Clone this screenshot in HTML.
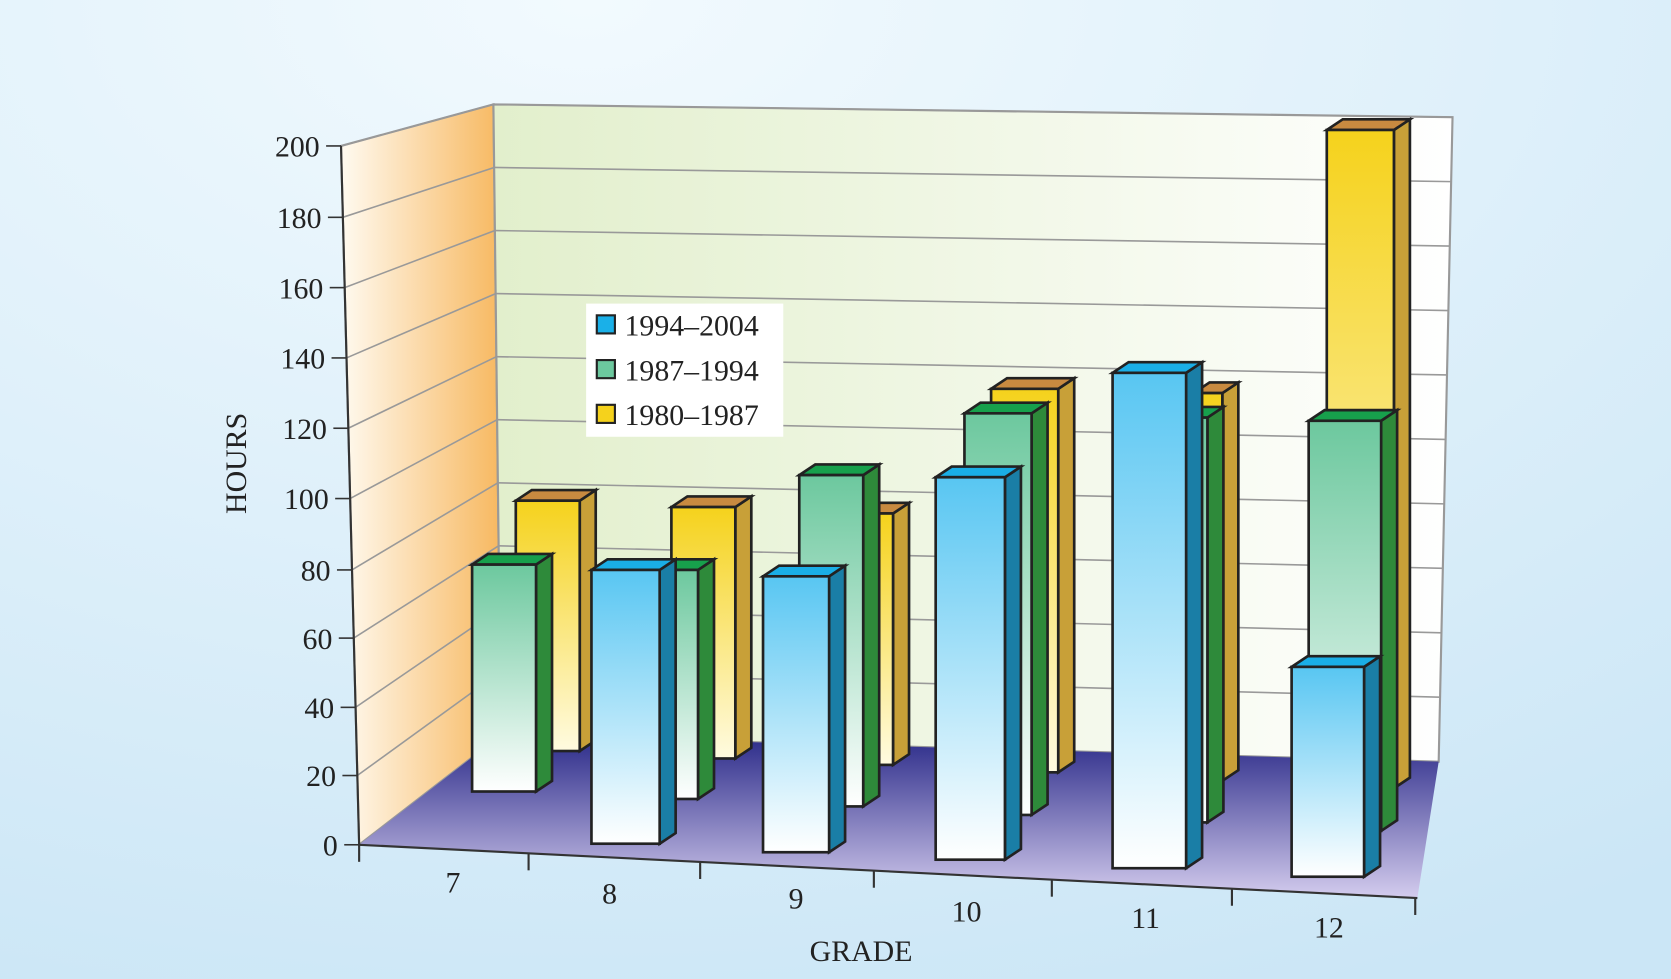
<!DOCTYPE html>
<html><head><meta charset="utf-8"><style>html,body{margin:0;padding:0;width:1671px;height:979px;overflow:hidden}svg{display:block}text{font-family:"Liberation Serif",serif;fill:#222}</style></head>
<body>
<svg width="1671" height="979" viewBox="0 0 1568 919" preserveAspectRatio="none">
<defs>
<radialGradient id="bg" cx="0.35" cy="0" r="1.1"><stop offset="0" stop-color="#f2fafe"/><stop offset="1" stop-color="#cbe6f6"/></radialGradient>
<linearGradient id="lw" x1="1" y1="0" x2="0" y2="0"><stop offset="0" stop-color="#f7b860"/><stop offset="1" stop-color="#fffaf0"/></linearGradient>
<linearGradient id="bw" x1="0" y1="0" x2="1" y2="0"><stop offset="0" stop-color="#e2efcc"/><stop offset="1" stop-color="#ffffff"/></linearGradient>
<linearGradient id="fl" x1="0" y1="0" x2="0" y2="1"><stop offset="0" stop-color="#2a2a88"/><stop offset="1" stop-color="#d4ccee"/></linearGradient>
<linearGradient id="gb" x1="0" y1="0" x2="0" y2="1"><stop offset="0" stop-color="#58c6f2"/><stop offset="1" stop-color="#ffffff"/></linearGradient>
<linearGradient id="gg" x1="0" y1="0" x2="0" y2="1"><stop offset="0" stop-color="#6cc89e"/><stop offset="1" stop-color="#ffffff"/></linearGradient>
<linearGradient id="gy" x1="0" y1="0" x2="0" y2="1"><stop offset="0" stop-color="#f5d21c"/><stop offset="1" stop-color="#fffbe0"/></linearGradient>
</defs>
<rect width="1568" height="919" fill="url(#bg)"/>
<polygon points="320,137 463,98 470,690 337,793" fill="url(#lw)" stroke="#999" stroke-width="2"/>
<polygon points="463,98 1363,110 1350,715 470,690" fill="url(#bw)" stroke="#999" stroke-width="2"/>
<polygon points="470,690 1350,715 1330,843 337,793" fill="url(#fl)"/>
<g stroke="#999" stroke-width="1.5" fill="none" id="grid"></g>
<g id="bars"></g>
<g font-size="28" text-anchor="end" id="ylab"></g>
<g stroke="#333" stroke-width="2"><line x1="337" y1="793" x2="1330" y2="843"/><line x1="320" y1="137" x2="337" y2="793"/></g>
<g id="xt" stroke="#333" stroke-width="2"></g>
<g font-size="28" text-anchor="middle">
<text x="425" y="838">7</text><text x="572" y="848">8</text><text x="747" y="853">9</text><text x="907" y="865">10</text><text x="1075" y="871">11</text><text x="1247" y="880">12</text>
<text x="808" y="902">GRADE</text>
<text transform="translate(231,435) rotate(-90)">HOURS</text>
</g>
<rect x="550" y="285" width="185" height="125" fill="#fff"/>
<g stroke="#222" stroke-width="2">
<rect x="560" y="296" width="17" height="17" fill="#1ab0e8"/>
<rect x="560" y="338" width="17" height="17" fill="#6cc89e"/>
<rect x="560" y="380" width="17" height="17" fill="#f5d21c"/>
</g>
<g font-size="28"><text x="586" y="315">1994–2004</text><text x="586" y="357">1987–1994</text><text x="586" y="399">1980–1987</text></g>
</svg>
<script>
const ns="http://www.w3.org/2000/svg";
function el(p,t,a){const e=document.createElementNS(ns,t);for(const k in a)e.setAttribute(k,a[k]);p.appendChild(e);return e;}
const g=document.getElementById('grid'),yl=document.getElementById('ylab'),xt=document.getElementById('xt');
const ay=[137,204,270,336,402,468,535,599,664,728,793];
for(let i=0;i<=10;i++){const f=i/10;const y=ay[10-i];const xx=337-17*f;
const by=690-592*f, bx=470-7*f, ry=715-605*f, rx=1350+13*f;
if(i>0){el(g,'line',{x1:xx,y1:y,x2:bx,y2:by});el(g,'line',{x1:bx,y1:by,x2:rx,y2:ry});}
el(g,'line',{x1:xx-14,y1:y,x2:xx,y2:y,stroke:'#333'});
const t=el(yl,'text',{x:xx-20,y:y+10});t.textContent=i*20;}
[337,496,657,820,987,1156,1328].forEach((x,i)=>{const y=793+50*(x-337)/993;el(xt,'line',{x1:x,y1:y,x2:x,y2:y+16});});
const B=document.getElementById('bars');
const C={b:['url(#gb)','#1a7ea6','#1aaee6'],g:['url(#gg)','#2e8a3a','#17a04c'],y:['url(#gy)','#c8a038','#c88a40']};
function bar(c,x1,x2,t,b){const d=15,h=10,k=C[c];
el(B,'polygon',{points:`${x2},${t} ${x2+d},${t-h} ${x2+d},${b-h} ${x2},${b}`,fill:k[1],stroke:'#222','stroke-width':2.5});
el(B,'polygon',{points:`${x1},${t} ${x1+d},${t-h} ${x2+d},${t-h} ${x2},${t}`,fill:k[2],stroke:'#222','stroke-width':2.5});
el(B,'rect',{x:x1,y:t,width:x2-x1,height:b-t,fill:k[0],stroke:'#222','stroke-width':2.5});}
[[484,544,470,705],[630,690,476,712],[810,838,482,718],[930,993,365,725],[1120,1147,369,733],[1245,1308,122,740]].forEach(a=>bar('y',...a));
[[443,503,530,743],[600,655,535,750],[750,810,446,757],[905,968,388,765],[1100,1133,392,772],[1228,1296,395,780]].forEach(a=>bar('g',...a));
[[555,619,535,792],[716,778,541,800],[878,943,448,807],[1044,1113,350,815],[1212,1280,626,823]].forEach(a=>bar('b',...a));
</script>
</body></html>
